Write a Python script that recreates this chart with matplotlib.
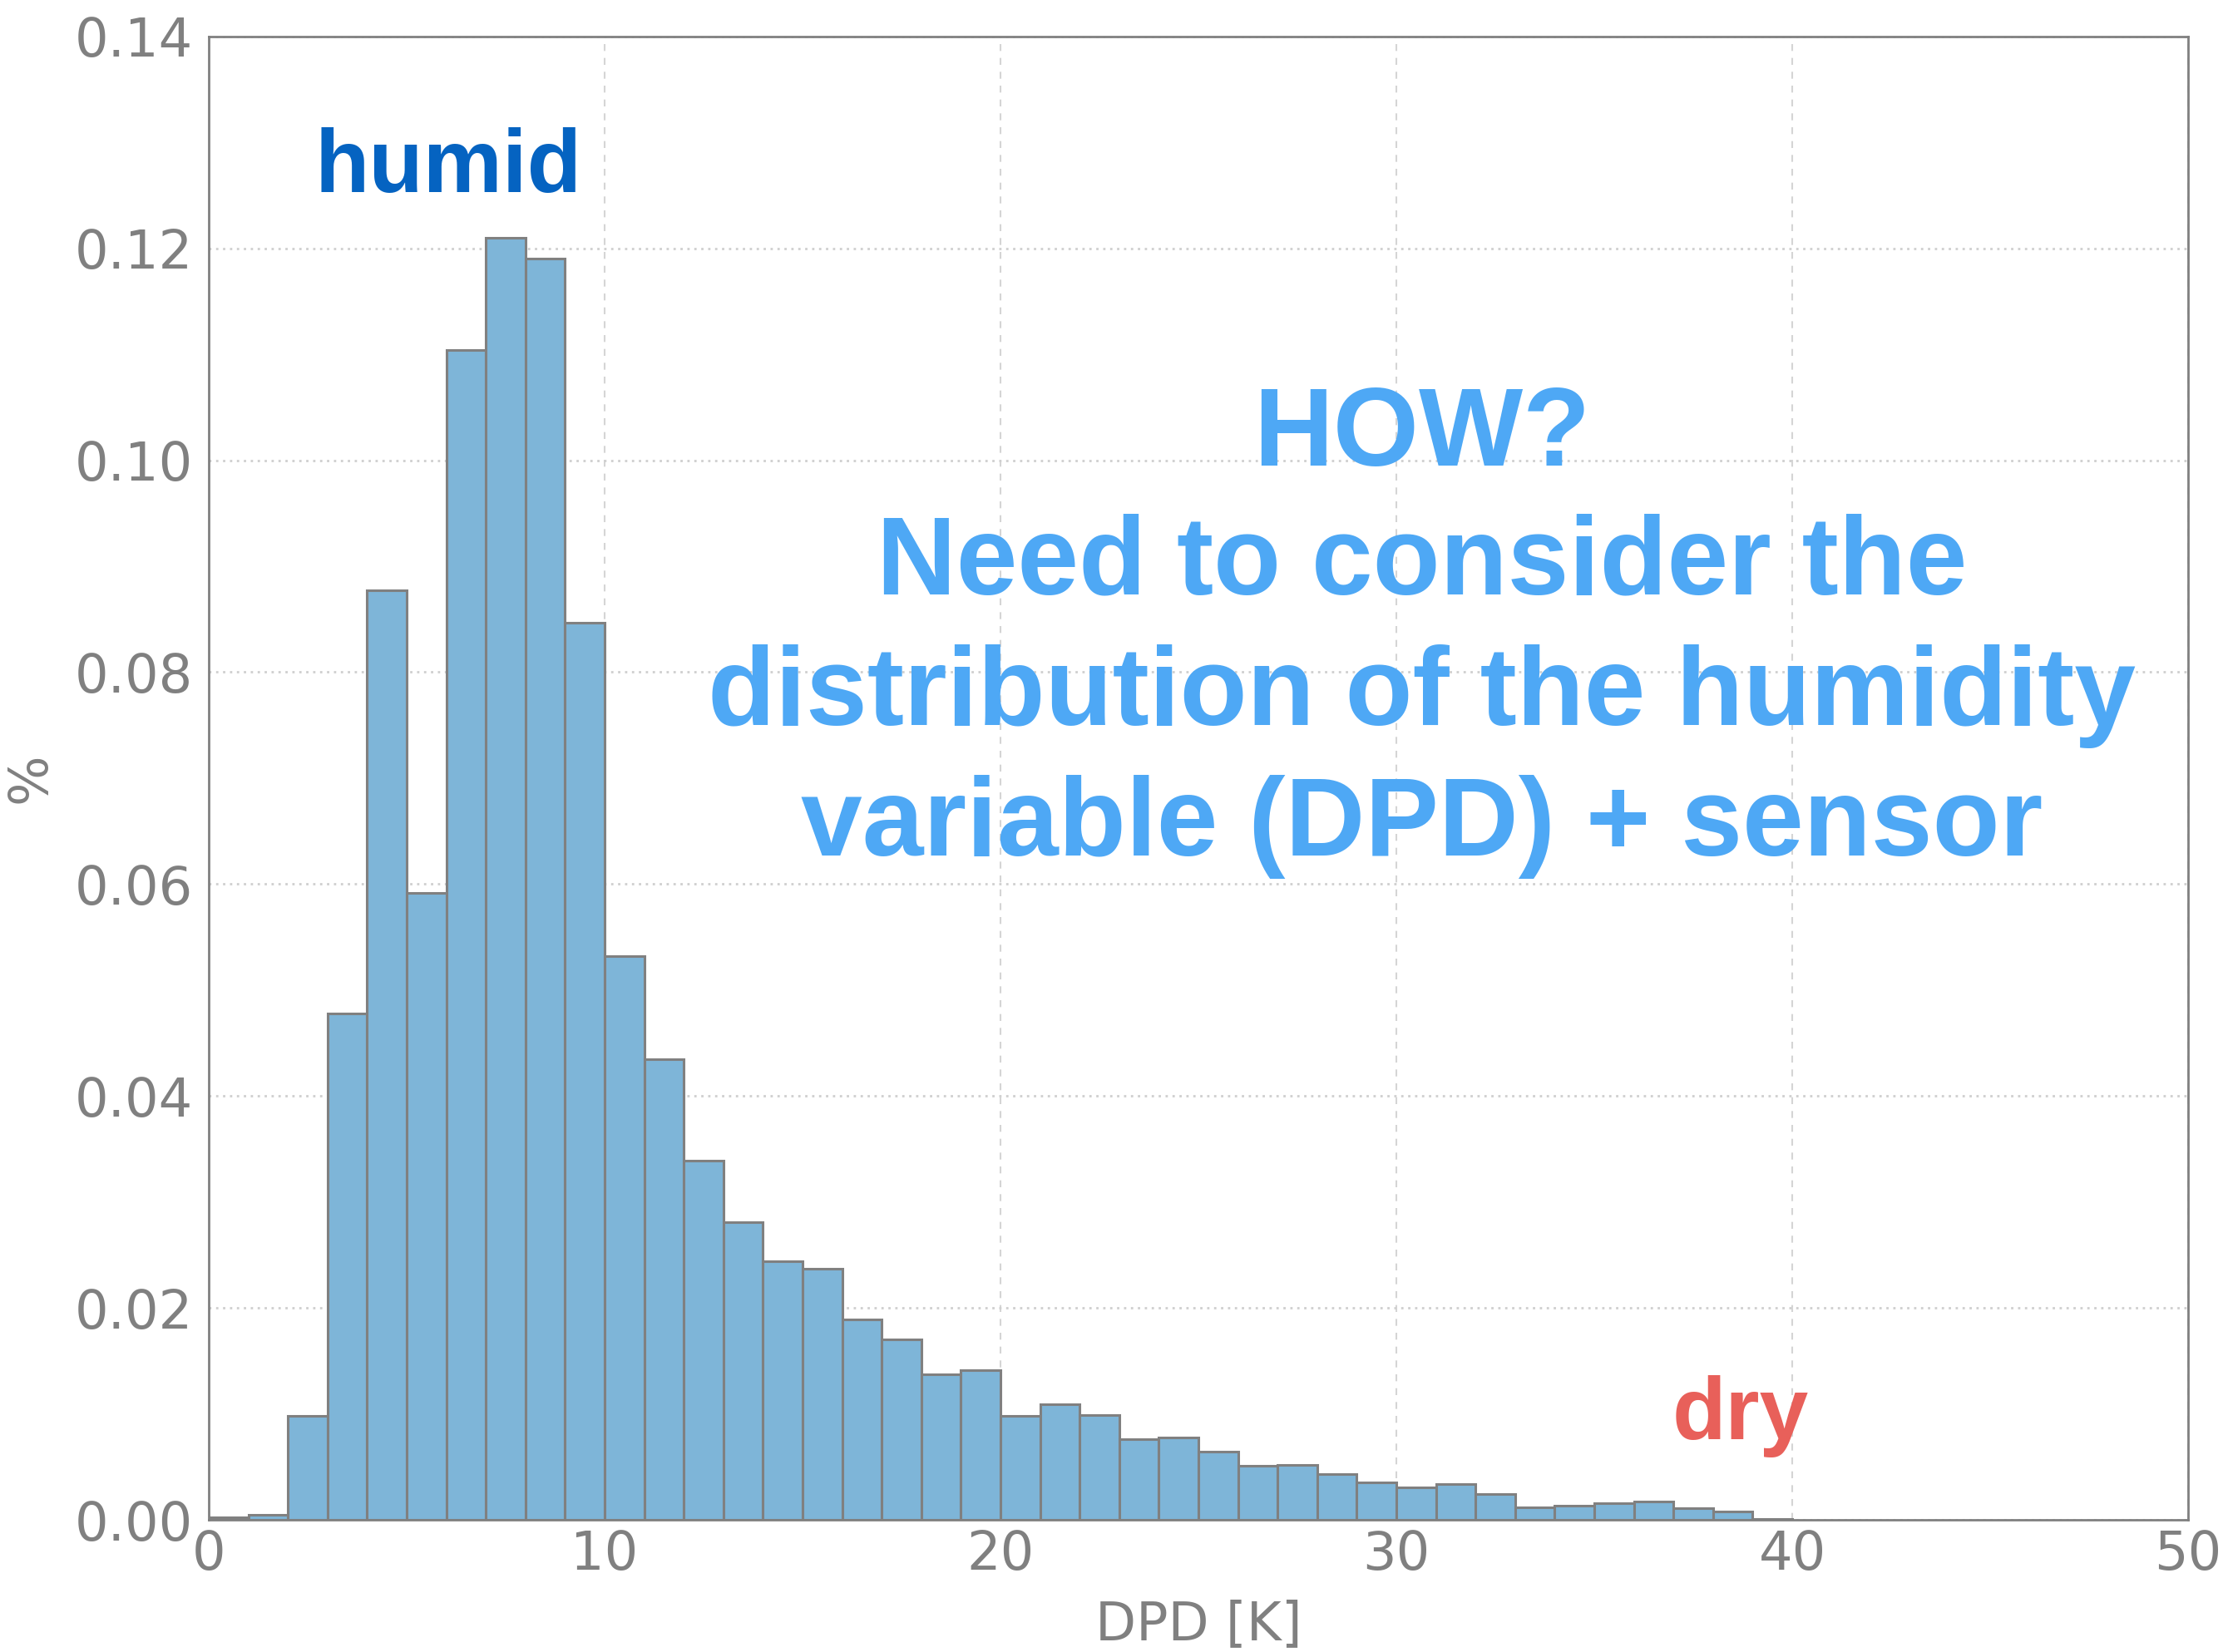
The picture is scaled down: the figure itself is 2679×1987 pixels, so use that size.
import matplotlib
matplotlib.use("Agg")
import matplotlib.pyplot as plt
import numpy as np

# Histogram data (DPD bins of 1 K, 0..40)
bin_edges = list(range(0, 41))
freq = [0.0002, 0.0005, 0.0098, 0.0478, 0.0877, 0.0592, 0.1104, 0.1210, 0.1190, 0.0847,
        0.0532, 0.0435, 0.0339, 0.0281, 0.0244, 0.0237, 0.0189, 0.0170, 0.0137, 0.0141,
        0.0098, 0.0109, 0.0099, 0.0076, 0.0078, 0.0064, 0.0051, 0.0052, 0.0043, 0.0035,
        0.0031, 0.0034, 0.0024, 0.0012, 0.0013, 0.0016, 0.0017, 0.0011, 0.0008, 0.0001]
x_ticks = [0, 10, 20, 30, 40, 50]
y_ticks = [0.00, 0.02, 0.04, 0.06, 0.08, 0.10, 0.12, 0.14]
how_lines = ["HOW?", "Need to consider the", "distribution of the humidity",
             "variable (DPD) + sensor"]

gray = "#808080"
fig = plt.figure(figsize=(26.79, 19.87), dpi=100)
ax = fig.add_axes([0.0937, 0.080, 0.8884, 0.898])

ax.bar(bin_edges[:-1], freq, width=1.0, align="edge", color="#7eb5d8",
       edgecolor=gray, linewidth=2.2, zorder=2)

ax.set_xlim(0, 50)
ax.set_ylim(0, 0.14)
ax.set_xticks(x_ticks)
ax.set_yticks(y_ticks)
ax.set_yticklabels([f"{v:.2f}" for v in y_ticks])
ax.tick_params(length=0, labelsize=46, labelcolor=gray, pad=14)
ax.tick_params(axis="x", pad=8)
for sp in ax.spines.values():
    sp.set_color(gray)
    sp.set_linewidth(2)

ax.yaxis.grid(True, linestyle=(0, (1, 2)), color="#cfcfcf", linewidth=2, zorder=0)
ax.xaxis.grid(True, linestyle=(0, (4, 4)), color="#d5d5d5", linewidth=1.5, zorder=0)
ax.set_axisbelow(True)

ax.set_xlabel("DPD [K]", fontsize=46, color=gray, labelpad=16)
ax.set_ylabel("%", fontsize=46, color=gray, labelpad=16)

bold = dict(family="Liberation Sans", fontweight="bold")
ax.text(6.05, 0.1253, "humid", color="#0563c1", fontsize=77, ha="center",
        va="baseline", **bold)
ax.text(38.7, 0.0076, "dry", color="#e8605a", fontsize=76, ha="center",
        va="baseline", **bold)

how_y = [0.0995, 0.0874, 0.0750, 0.0627]
for line, yy in zip(how_lines, how_y):
    ax.text(30.65, yy, line, color="#4ea8f5", fontsize=95.5, ha="center",
            va="baseline", **bold)

fig.savefig("out.png", dpi=100)
